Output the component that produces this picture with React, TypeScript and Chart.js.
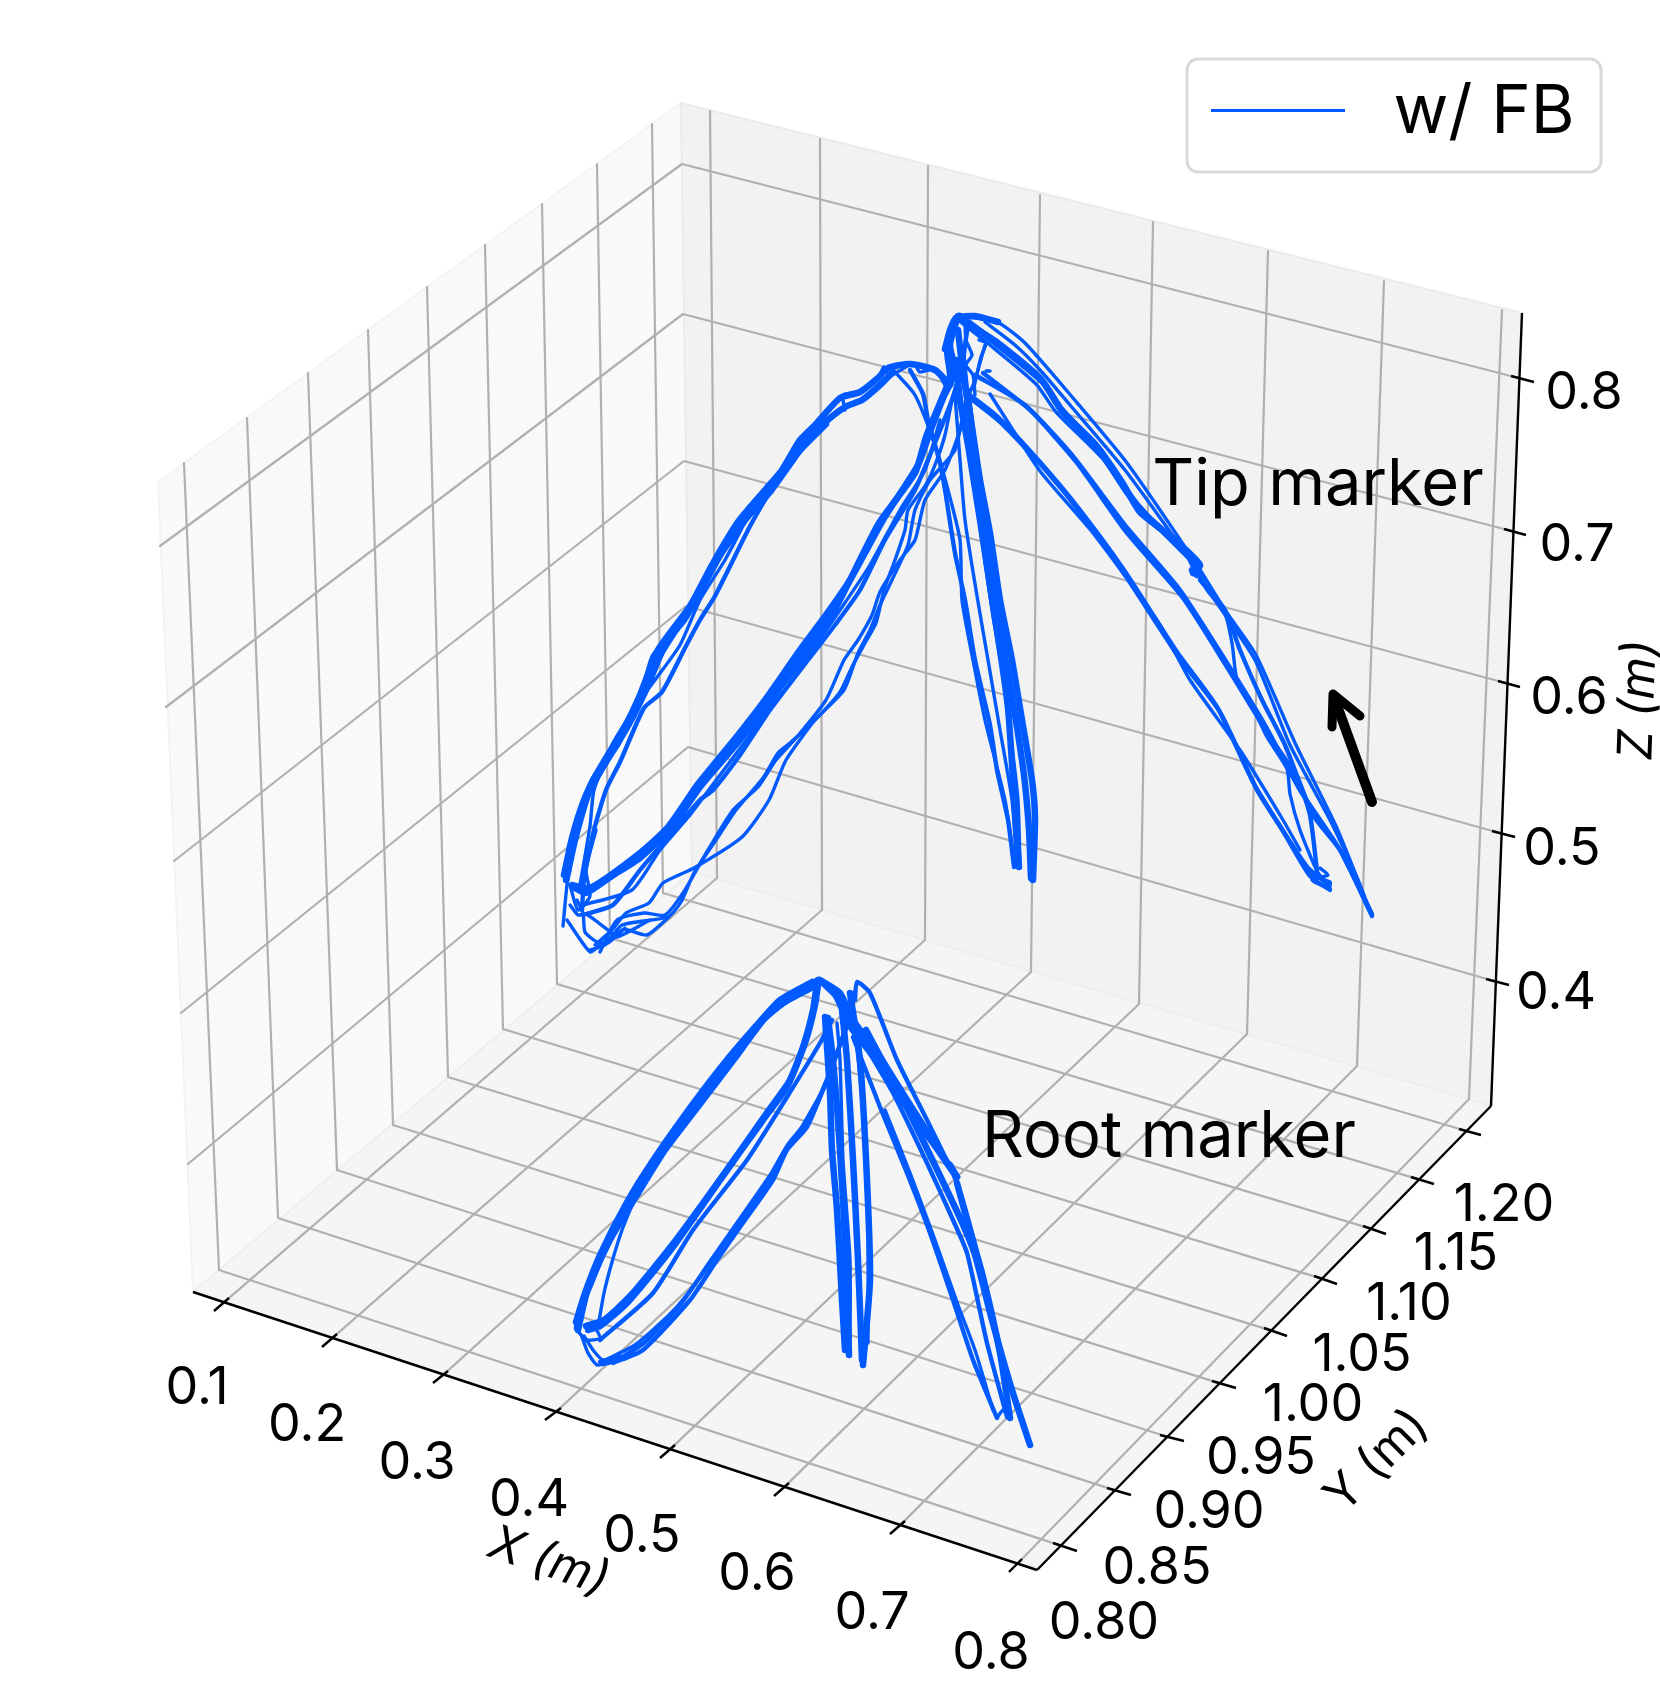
import React, { useEffect, useRef } from "react";
import { Chart, registerables } from "chart.js";

Chart.register(...registerables);

type P = number[];
const W = 1660;
const H = 1702;
const BLUE = "#005aff";
const GRID = "#b0b0b0";

// tick labels
const xTickLabels = ["0.1", "0.2", "0.3", "0.4", "0.5", "0.6", "0.7", "0.8"];
const yTickLabels = ["0.80", "0.85", "0.90", "0.95", "1.00", "1.05", "1.10", "1.15", "1.20"];
const zTickLabels = ["0.8", "0.7", "0.6", "0.5", "0.4"];

// projected box (page units)
const paneLeft: P[] = [[193, 1292], [158, 482], [681, 103], [692, 872]];
const paneBack: P[] = [[681, 103], [1522, 313], [1491, 1106], [692, 872]];
const paneFloor: P[] = [[193, 1292], [1037, 1570], [1491, 1106], [692, 872]];
const axisX: P[] = [[193, 1292], [1037, 1570]];
const axisY: P[] = [[1037, 1570], [1491, 1106]];
const axisZ: P[] = [[1522, 313], [1491, 1106]];

// x gridlines: tick inner end, tick outer end, floor back edge, pane top
const xTickInner: P[] = [[229, 1298], [337, 1334], [448, 1371], [561, 1408], [675, 1445], [789, 1483], [905, 1521], [1022, 1559]];
const xTickOuter: P[] = [[214, 1311], [322, 1347], [433, 1383], [545, 1420], [660, 1458], [774, 1496], [890, 1534], [1009, 1572]];
const xGridBack: P[] = [[717, 878], [822, 910], [925, 940], [1031, 972], [1139, 1004], [1247, 1034], [1357, 1066], [1469, 1099]];
const xGridTop: P[] = [[710, 111], [820, 139], [928, 166], [1040, 195], [1153, 222], [1268, 251], [1384, 281], [1502, 310]];

// y gridlines
const yTickInner: P[] = [[1053, 1543], [1107, 1488], [1160, 1435], [1212, 1381], [1264, 1328], [1314, 1276], [1363, 1226], [1411, 1177], [1459, 1129]];
const yTickOuter: P[] = [[1077, 1551], [1131, 1495], [1184, 1441], [1236, 1388], [1287, 1336], [1337, 1284], [1386, 1234], [1434, 1184], [1481, 1135]];
const yGridBack: P[] = [[219, 1270], [278, 1218], [337, 1170], [393, 1125], [448, 1077], [503, 1029], [557, 984], [610, 938], [663, 893]];
const yGridTop: P[] = [[184, 463], [247, 418], [308, 373], [368, 330], [427, 287], [485, 245], [542, 204], [597, 164], [652, 124]];

// z gridlines
const zTickInner: P[] = [[1511, 376], [1504, 529], [1498, 681], [1492, 831], [1486, 979]];
const zTickOuter: P[] = [[1534, 382], [1526, 535], [1520, 687], [1515, 837], [1509, 985]];
const zGridBack: P[] = [[682, 164], [683, 314], [684, 461], [686, 606], [688, 747]];
const zGridLeft: P[] = [[160, 546], [166, 707], [174, 861], [181, 1013], [188, 1164]];

// Tip marker trajectories: heavily overdrawn bundles
const tipLeftOuterA: P[] = [[566, 880], [570, 850], [580, 815], [593, 780], [618, 743], [633, 712], [644, 688], [654, 656], [684, 620], [700, 592], [722, 552], [745, 520], [770, 492], [790, 464], [806, 442], [822, 425], [845, 407], [862, 400], [880, 385], [893, 372]];
const tipLeftOuterB: P[] = [[564, 875], [572, 838], [584, 800], [596, 775], [624, 728], [640, 695], [658, 650], [690, 606], [712, 565], [738, 522], [765, 490], [782, 470], [800, 440], [815, 425], [840, 398], [860, 392], [878, 378], [888, 368], [910, 364], [935, 370], [950, 385]];
const tipLeftOuterC: P[] = [[568, 872], [575, 840], [588, 795], [600, 772], [628, 726], [646, 690], [662, 652], [694, 602], [718, 558], [742, 524], [768, 488], [786, 466], [804, 446], [826, 424]];
const tipCentreA: P[] = [[575, 888], [586, 893], [612, 876], [640, 858], [672, 827], [700, 787], [740, 740], [768, 703], [804, 653], [829, 620], [845, 590], [879, 523], [915, 473], [926, 437], [940, 403], [950, 377], [947, 350], [952, 330], [956, 318]];
const tipCentreB: P[] = [[572, 885], [590, 888], [640, 853], [668, 827], [698, 784], [738, 735], [765, 700], [800, 650], [826, 615], [850, 580], [883, 520], [918, 465], [930, 432], [944, 396], [955, 372], [950, 345], [958, 316]];
const tipMidA: P[] = [[1033, 880], [1035, 818], [1032, 780], [1022, 720], [1012, 660], [1000, 600], [990, 533], [980, 480], [970, 414], [963, 373], [958, 330]];
const tipMidB: P[] = [[1031, 878], [1029, 830], [1024, 775], [1015, 715], [1004, 650], [994, 590], [982, 510], [973, 440], [966, 390], [962, 350]];
const tipMidC: P[] = [[1019, 867], [1015, 810], [1008, 708], [1000, 650], [990, 586], [980, 520], [968, 445], [960, 400], [956, 360]];
const tipRightThickA: P[] = [[960, 316], [993, 341], [1043, 382], [1060, 408], [1100, 451], [1127, 492], [1147, 516], [1187, 553], [1197, 573]];
const tipRightThickB: P[] = [[965, 322], [998, 343], [1040, 378], [1063, 412], [1096, 445], [1122, 482], [1140, 512], [1175, 540], [1200, 565], [1193, 573]];
const tipApexThick: P[] = [[945, 349], [950, 330], [956, 318], [975, 316], [998, 322]];

// Tip marker trajectories: single passes
const tipLeftInnerA: P[] = [[582, 910], [584, 880], [594, 830], [606, 790], [620, 762], [644, 708], [662, 692], [686, 646], [700, 620], [715, 596], [748, 530], [762, 505], [782, 472], [800, 445]];
const tipLeftInnerB: P[] = [[580, 885], [590, 826], [594, 790], [612, 745], [640, 700], [655, 680], [680, 645], [700, 600], [725, 560], [745, 522]];
const tipCentreC: P[] = [[586, 914], [613, 905], [640, 870], [657, 850], [700, 800], [713, 790], [740, 755], [770, 710], [808, 660], [835, 625], [860, 590], [885, 540], [915, 490], [932, 450], [950, 405], [962, 370], [965, 345], [968, 325]];
const tipCentreD: P[] = [[583, 905], [632, 890], [660, 850], [690, 815], [720, 775], [750, 735], [780, 690], [812, 650], [840, 610], [870, 565], [900, 510], [925, 470], [940, 420]];
const tipLowerA: P[] = [[590, 950], [605, 945], [622, 925], [668, 917], [681, 902], [694, 873], [718, 837], [736, 810], [763, 778], [778, 753], [790, 743], [815, 720], [840, 692], [852, 667], [865, 643], [876, 623], [884, 590], [895, 560], [905, 530], [908, 510], [925, 486], [935, 465], [945, 435], [952, 400], [960, 370]];
const tipLowerB: P[] = [[595, 945], [612, 930], [626, 913], [649, 903], [663, 883], [694, 868], [742, 837], [769, 800], [786, 760], [815, 720], [844, 690], [858, 653], [870, 630], [880, 605], [892, 580], [908, 545], [915, 510], [930, 480], [955, 450], [965, 405], [975, 380], [985, 345]];
const tipLowerC: P[] = [[600, 952], [617, 920], [644, 913], [665, 915], [683, 893], [708, 850], [733, 810], [758, 787], [776, 760], [797, 737], [826, 700], [844, 660], [858, 640], [872, 615], [880, 592], [900, 560], [915, 540], [925, 500], [945, 470], [960, 430], [970, 390]];
const tipLoopA: P[] = [[563, 926], [567, 885], [570, 870]];
const tipLoopB: P[] = [[567, 920], [590, 952], [600, 945], [622, 930], [628, 930], [647, 935], [668, 918]];
const tipLoopC: P[] = [[577, 900], [583, 913], [585, 932], [597, 942], [608, 943], [625, 928]];
const tipLoopD: P[] = [[570, 905], [578, 915], [586, 914], [608, 930], [617, 937], [650, 920]];
const tipLoopE: P[] = [[570, 885], [578, 910], [590, 896], [586, 870], [596, 830]];
const tipMidD: P[] = [[1014, 867], [1008, 820], [997, 770], [990, 725], [975, 660], [965, 600], [955, 553], [945, 490], [940, 463], [928, 420], [923, 394], [910, 370]];
const tipMidE: P[] = [[1015, 867], [1005, 800], [985, 720], [972, 655], [962, 600], [960, 540], [948, 490], [935, 445], [915, 395], [895, 372]];
const tipMidF: P[] = [[1017, 867], [1012, 800], [1000, 730], [988, 660], [976, 590], [965, 520], [960, 460], [955, 395]];
const tipMidG: P[] = [[1020, 866], [1018, 800], [1010, 730], [1003, 675], [992, 610], [982, 540], [972, 470], [964, 410]];
const tipMidH: P[] = [[1034, 875], [1027, 800], [1020, 750], [1010, 690], [1002, 630], [988, 550], [978, 470], [970, 400]];
const tipRightOuterA: P[] = [[1372, 916], [1365, 898], [1336, 826], [1296, 745], [1256, 655], [1225, 610], [1197, 565], [1127, 463], [1073, 398], [1025, 343], [997, 322], [960, 316]];
const tipRightOuterB: P[] = [[1370, 912], [1358, 880], [1330, 820], [1290, 745], [1255, 660], [1215, 600], [1190, 560], [1125, 470], [1070, 405], [1040, 370], [1015, 345], [985, 322]];
const tipRightThickC: P[] = [[958, 320], [990, 345], [1036, 384], [1056, 412], [1102, 458], [1130, 498], [1150, 520], [1190, 560]];
const tipRightDownA: P[] = [[1197, 573], [1207, 590], [1225, 614], [1232, 643], [1237, 680], [1253, 708], [1267, 737], [1287, 769], [1290, 794], [1300, 830], [1317, 871], [1330, 888]];
const tipRightDownB: P[] = [[1200, 580], [1225, 610], [1240, 650], [1262, 700], [1285, 745], [1313, 815], [1340, 850], [1372, 914]];
const tipRightInnerA: P[] = [[983, 373], [1030, 410], [1077, 463], [1127, 533], [1183, 598], [1227, 667], [1270, 737], [1297, 777], [1310, 815], [1317, 871]];
const tipRightInnerB: P[] = [[975, 375], [1025, 405], [1072, 455], [1125, 525], [1180, 590], [1222, 655], [1265, 725], [1300, 790], [1340, 850], [1372, 916]];
const tipRightLowA: P[] = [[970, 398], [1000, 422], [1043, 467], [1083, 516], [1127, 578], [1180, 659], [1220, 712], [1257, 790], [1283, 831], [1310, 876], [1330, 890]];
const tipRightLowB: P[] = [[966, 392], [998, 417], [1040, 462], [1080, 510], [1124, 570], [1177, 652], [1217, 707], [1253, 782], [1280, 826], [1308, 868], [1328, 884]];
const tipRightLowC: P[] = [[990, 394], [1040, 471], [1093, 533], [1160, 625], [1190, 680], [1240, 750], [1283, 820], [1300, 850]];
const tipEndCluster: P[] = [[1310, 875], [1330, 882], [1329, 888], [1312, 880], [1328, 875], [1320, 868]];
const tipApexZigA: P[] = [[965, 322], [966, 340], [972, 355], [966, 365], [973, 375], [975, 395]];
const tipApexZigB: P[] = [[979, 340], [986, 343], [981, 357], [974, 387]];
const tipApexLeft: P[] = [[845, 410], [843, 395], [860, 392], [878, 378], [884, 367], [890, 376], [913, 363], [920, 372], [935, 369], [945, 385]];
const tipApexDot: P[] = [[986, 371], [990, 371]];
const tipDot: P[] = [[1192, 570], [1197, 575]];

// Root marker trajectories: heavily overdrawn bundles
const rootLeftA: P[] = [[577, 1328], [580, 1310], [592, 1280], [603, 1253], [630, 1200], [657, 1160], [693, 1110], [727, 1067], [760, 1023], [783, 1003], [817, 985]];
const rootLeftB: P[] = [[576, 1322], [585, 1293], [600, 1255], [626, 1204], [652, 1162], [690, 1108], [722, 1066], [756, 1026], [780, 1000], [812, 982]];
const rootLeftC: P[] = [[578, 1330], [588, 1288], [610, 1240], [640, 1190], [665, 1150], [700, 1104], [735, 1058], [765, 1018], [790, 998], [818, 980]];
const rootCentreA: P[] = [[588, 1330], [600, 1326], [627, 1303], [673, 1247], [720, 1180], [763, 1120], [787, 1087], [803, 1047], [813, 1010], [817, 983]];
const rootCentreB: P[] = [[586, 1326], [604, 1320], [632, 1294], [676, 1240], [724, 1174], [766, 1114], [790, 1080], [806, 1040], [815, 1005], [818, 985]];
const rootMidA: P[] = [[845, 1350], [842, 1300], [837, 1210], [832, 1150], [830, 1093], [825, 1017]];
const rootMidB: P[] = [[849, 1355], [847, 1290], [843, 1200], [838, 1120], [833, 1060], [828, 1018]];
const rootMidD: P[] = [[863, 1365], [870, 1280], [867, 1180], [860, 1060], [850, 993]];
const rootMidE: P[] = [[862, 1360], [858, 1260], [853, 1160], [847, 1060], [842, 1010]];
const rootRightThickA: P[] = [[957, 1177], [937, 1147], [907, 1100], [880, 1057], [853, 1020], [840, 993], [820, 980]];
const rootRightThickB: P[] = [[953, 1172], [933, 1143], [903, 1102], [876, 1060], [850, 1026], [836, 996], [824, 984]];
const rootRightDown: P[] = [[957, 1183], [965, 1213], [983, 1277], [1000, 1353], [1010, 1418]];
const rootRightLowC: P[] = [[1030, 1445], [1012, 1390], [992, 1320], [975, 1255], [960, 1218], [930, 1155], [898, 1090], [866, 1030]];

// Root marker trajectories: single passes
const rootLeftInner: P[] = [[598, 1327], [604, 1293], [612, 1262], [622, 1230], [632, 1205]];
const rootCentreC: P[] = [[600, 1340], [653, 1293], [693, 1230], [747, 1160], [787, 1097], [820, 1043], [832, 1020]];
const rootLowerA: P[] = [[613, 1363], [643, 1350], [690, 1300], [717, 1260], [740, 1227], [773, 1180], [787, 1150], [807, 1127], [823, 1090], [837, 1053], [847, 1023], [853, 993]];
const rootLowerB: P[] = [[600, 1362], [620, 1358], [645, 1342], [680, 1305], [710, 1262], [738, 1222], [770, 1176], [788, 1145], [808, 1120], [826, 1082], [840, 1045], [850, 1018]];
const rootLowerC: P[] = [[605, 1360], [635, 1345], [672, 1312], [700, 1278], [730, 1235], [765, 1188], [783, 1155], [800, 1130], [820, 1095]];
const rootLoopA: P[] = [[582, 1337], [588, 1353], [597, 1365], [610, 1363]];
const rootLoopB: P[] = [[584, 1336], [593, 1350], [603, 1360], [620, 1355]];
const rootLoopC: P[] = [[577, 1330], [586, 1340], [600, 1338], [594, 1325]];
const rootMidC: P[] = [[850, 1353], [850, 1260], [843, 1160], [840, 1060], [837, 1023]];
const rootMidF: P[] = [[868, 1343], [868, 1227], [862, 1100], [855, 1030]];
const rootRightOuter: P[] = [[1030, 1445], [1017, 1407], [997, 1337], [973, 1237], [957, 1183], [927, 1120], [897, 1060], [870, 993], [857, 982], [855, 1000]];
const rootRightLowA: P[] = [[997, 1418], [973, 1360], [953, 1300], [930, 1233], [907, 1173], [880, 1107], [853, 1037]];
const rootRightLowB: P[] = [[1007, 1417], [987, 1343], [967, 1253], [953, 1220], [927, 1163], [893, 1093], [860, 1037]];
const rootRightLowD: P[] = [[993, 1410], [975, 1350], [958, 1305], [935, 1240], [912, 1178], [885, 1110]];
const rootEndCluster: P[] = [[997, 1418], [1003, 1410], [1010, 1418], [1008, 1405]];
const rootDot: P[] = [[950, 1165], [957, 1177]];

const boldTraces: P[][] = [
  tipLeftOuterA, tipLeftOuterB, tipLeftOuterC, tipCentreA, tipCentreB, tipMidA, tipMidB, tipMidC, tipRightThickA, tipRightThickB, tipApexThick, tipDot,
  rootLeftA, rootLeftB, rootLeftC, rootCentreA, rootCentreB, rootMidA, rootMidB, rootMidD, rootMidE, rootRightThickA, rootRightThickB, rootRightDown, rootRightLowC, rootDot,
];
const mediumTraces: P[][] = [
  tipRightLowA, tipRightLowB, tipRightInnerA, tipRightInnerB, tipRightDownB, tipMidD, tipCentreC, tipLeftInnerA,
  rootRightLowA, rootRightLowB, rootRightOuter, rootLowerA, rootLowerB, rootCentreC,
];
const thinTraces: P[][] = [
  tipLeftInnerB, tipCentreD, tipLowerA, tipLowerB, tipLowerC, tipLoopA, tipLoopB, tipLoopC, tipLoopD, tipLoopE,
  tipMidE, tipMidF, tipMidG, tipMidH, tipRightOuterA, tipRightOuterB, tipRightThickC, tipRightDownA,
  tipRightLowC, tipEndCluster, tipApexZigA, tipApexZigB, tipApexLeft, tipApexDot,
  rootLeftInner, rootLowerC, rootLoopA, rootLoopB, rootLoopC, rootMidC, rootMidF,
  rootRightLowD, rootEndCluster,
];

// direction arrow
const arrowShaft: P[] = [[1372, 802], [1335, 700]];
const arrowHead: P[] = [[1332, 727], [1333, 694], [1360, 716]];

// text placement
const xLabelAt: P[] = [[197, 1388], [307, 1425], [417, 1463], [529, 1500], [642, 1536], [757, 1574], [872, 1613], [991, 1653]];
const yLabelAt: P[] = [[1104, 1623], [1157, 1568], [1209, 1512], [1261, 1458], [1313, 1405], [1362, 1355], [1409, 1304], [1456, 1254], [1504, 1205]];
const zLabelAt: P[] = [[1584, 393], [1577, 545], [1569, 698], [1562, 849], [1556, 993]];

const pts = (a: P[]) => a.map(([x, y]) => ({ x, y }));

function line(data: P[], color: string, width: number, extra: object = {}) {
  return { data: pts(data), borderColor: color, backgroundColor: color, borderWidth: width, pointRadius: 0, tension: 0, fill: false, borderCapStyle: "round", borderJoinStyle: "round", ...extra };
}

const textPlugin = {
  id: "figureText",
  afterDatasetsDraw(chart: any) {
    const c = chart.ctx as CanvasRenderingContext2D;
    const px = (p: P) => [chart.scales.x.getPixelForValue(p[0]), chart.scales.y.getPixelForValue(p[1])];
    const FONT = 'Inter, "Noto Sans", sans-serif';
    const put = (s: string, p: P, size: number, rot = 0, italic = false) => {
      const [x, y] = px(p);
      c.save();
      c.translate(x, y);
      c.rotate((rot * Math.PI) / 180);
      c.font = `${italic ? "italic " : ""}${size}px ${FONT}`;
      c.fillStyle = "#000";
      c.textAlign = "center";
      c.textBaseline = "middle";
      c.fillText(s, 0, 0);
      c.restore();
    };
    xTickLabels.forEach((s, i) => put(s, xLabelAt[i], 52));
    yTickLabels.forEach((s, i) => put(s, yLabelAt[i], 52));
    zTickLabels.forEach((s, i) => put(s, zLabelAt[i], 52));
    put("X (m)", [549, 1562], 48, 19, true);
    put("Y (m)", [1377, 1461], 48, -45);
    put("Z (m)", [1639, 700], 48, -88, true);
    put("Tip marker", [1318, 485], 65);
    put("Root marker", [1169, 1137], 65);
    // legend
    const [lx, ly] = px([1187, 59]);
    c.save();
    c.beginPath();
    c.roundRect(lx, ly, 414, 113, 11);
    c.fillStyle = "rgba(255,255,255,0.8)";
    c.fill();
    c.lineWidth = 3;
    c.strokeStyle = "#d9d9d9";
    c.stroke();
    c.strokeStyle = BLUE;
    c.lineWidth = 3;
    c.beginPath();
    c.moveTo(1211, 110.5);
    c.lineTo(1345, 110.5);
    c.stroke();
    c.restore();
    put("w/ FB", [1484, 113], 67);
  },
};

export default function App() {
  const ref = useRef<HTMLCanvasElement>(null);
  useEffect(() => {
    document.body.style.margin = "0";
    const grid: any[] = [];
    const seg = (a: P, b: P, k: number): P => [a[0] + (b[0] - a[0]) * k, a[1] + (b[1] - a[1]) * k];
    xTickInner.forEach((t, i) => grid.push(line([seg(t, xTickOuter[i], 0.3), xGridBack[i], xGridTop[i]], GRID, 2.2)));
    yTickInner.forEach((t, i) => grid.push(line([seg(t, yTickOuter[i], 0.3), yGridBack[i], yGridTop[i]], GRID, 2.2)));
    zTickInner.forEach((t, i) => grid.push(line([seg(t, zTickOuter[i], 0.3), zGridBack[i], zGridLeft[i]], GRID, 2.2)));
    const panes = [
      line([...paneLeft, paneLeft[0]], "#f3f3f3", 2, { fill: "shape", backgroundColor: "#f9f9f9" }),
      line([...paneBack, paneBack[0]], "#ebebeb", 2, { fill: "shape", backgroundColor: "#f2f2f2" }),
      line([...paneFloor, paneFloor[0]], "#eeeeee", 2, { fill: "shape", backgroundColor: "#f5f5f5" }),
    ];
    const axes = [axisX, axisY, axisZ].map((a) => line(a, "#000", 2.4, { borderCapStyle: "butt" }));
    const ticks: any[] = [];
    [[xTickInner, xTickOuter], [yTickInner, yTickOuter], [zTickInner, zTickOuter]].forEach(([a, b]) =>
      a.forEach((t, i) => ticks.push(line([t, b[i]], "#000", 2.4, { borderCapStyle: "butt" })))
    );
    const traces = [
      ...thinTraces.map((t) => line(t, BLUE, 3.4, { tension: 0.2 })),
      ...mediumTraces.map((t) => line(t, BLUE, 4.4, { tension: 0.2 })),
      ...boldTraces.map((t) => line(t, BLUE, 6.5, { tension: 0.2 })),
    ];
    const arrows = [line(arrowShaft, "#000", 10), line(arrowHead, "#000", 9)];
    const all = [...panes, ...grid, ...axes, ...ticks, ...traces, ...arrows];
    all.forEach((d, i) => (d.order = all.length - i));
    const chart = new Chart(ref.current as HTMLCanvasElement, {
      type: "line",
      data: { datasets: all },
      plugins: [textPlugin],
      options: {
        animation: false,
        responsive: false,
        parsing: false as any,
        normalized: false,
        clip: false as any,
        layout: { padding: 0 },
        plugins: { legend: { display: false }, tooltip: { enabled: false } },
        scales: {
          x: { type: "linear", min: 0, max: W, display: false },
          y: { type: "linear", min: 0, max: H, reverse: true, display: false },
        },
      } as any,
    });
    return () => chart.destroy();
  }, []);
  return <canvas ref={ref} width={W} height={H} style={{ display: "block", width: W, height: H }} />;
}
